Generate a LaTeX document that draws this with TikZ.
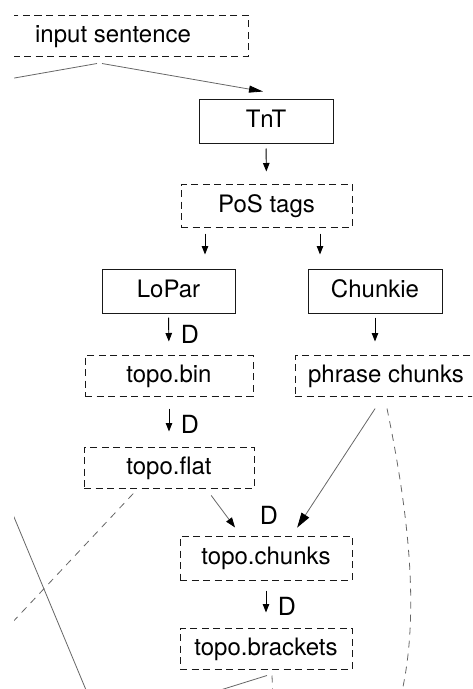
\documentclass[tikz,border=0pt]{standalone}
\usepackage{fontspec}
\setmainfont{TeX Gyre Heros}
\usetikzlibrary{arrows.meta,calc}
\begin{document}
\begin{tikzpicture}[x=1pt,y=-1pt,
  every node/.style={inner sep=0pt, font=\fontsize{24}{28}\selectfont,
    text height=17pt, text depth=4pt},
  proc/.style={draw=black!90, line width=1pt},
  data/.style={proc, dash pattern=on 7pt off 4.5pt},
  dlabel/.style={font=\fontsize{25}{28}\selectfont, text height=17pt, text depth=0pt},
  step arrow/.style={draw=black, line width=0.9pt, -{Triangle[length=8.5pt,width=6.5pt]}},
  link/.style={draw=black!60, line width=0.8pt},
  link arrow/.style={link, -{Triangle[length=14pt,width=7pt,color=black]}},
  link dashed/.style={link, dash pattern=on 7pt off 6pt}
]
\useasboundingbox (0,0) rectangle (473,689);
\clip (14,0) rectangle (472,689);

% data files (dashed) and tools (solid)
\node[data, minimum width=270pt, minimum height=41pt] (input)    at (113,35.5)  {input sentence};
\node[proc, minimum width=134pt, minimum height=44pt] (tnt)      at (266,121)   {TnT};
\node[data, minimum width=171pt, minimum height=43pt] (pos)      at (266.5,205.5) {PoS tags};
\node[proc, minimum width=133pt, minimum height=44pt] (lopar)    at (168.5,291) {LoPar};
\node[proc, minimum width=134pt, minimum height=44pt] (chunkie)  at (375,291)   {Chunkie};
\node[data, minimum width=168pt, minimum height=41pt] (bin)      at (169,375.5) {topo.bin};
\node[data, minimum width=182pt, minimum height=41pt] (phrase)   at (386,375.5) {phrase chunks};
\node[data, minimum width=170pt, minimum height=41pt] (flat)     at (169,467.5) {topo.flat};
\node[data, minimum width=172pt, minimum height=44pt] (chunks)   at (266,558)   {topo.chunks};
\node[data, minimum width=172pt, minimum height=41pt] (brackets) at (266,648.5) {topo.brackets};

% "D" markers beside the conversion steps
\node[dlabel] (d1) at (190,335)   {D};
\node[dlabel] (d2) at (190,425)   {D};
\node[dlabel] (d3) at (269,515.5) {D};
\node[dlabel] (d4) at (287,607)   {D};

% free ends of the lines that leave the frame
\coordinate (inL)   at (-10,82.3);
\coordinate (flatL) at (-2,637.7);
\coordinate (sideT) at (0,483.4);
\coordinate (sideB) at (90.2,700);
\coordinate (brL)   at (188.4,700);
\coordinate (brD)   at (273,700);
\coordinate (phD)   at (400,700);

% input sentence
\draw[link] ($(input.south)+(-16,7)$) -- (inL);
\draw[link arrow] ($(input.south)+(-11,7)$) -- ($(tnt.north)+(-3,-7)$);

% pipeline steps
\draw[step arrow, shorten <=5pt, shorten >=12pt] (tnt.south) -- (pos.north);
\draw[step arrow, shorten <=6pt, shorten >=14pt] ([xshift=-61.5pt]pos.south) -- ([xshift=36.5pt]lopar.north);
\draw[step arrow, shorten <=6pt, shorten >=14pt] ([xshift=53.5pt]pos.south) -- ([xshift=-55pt]chunkie.north);
\draw[step arrow, shorten <=4pt, shorten >=13pt] (lopar.south) -- (bin.north);
\draw[step arrow, shorten <=4pt, shorten >=13pt] (chunkie.south) -- ([xshift=-11pt]phrase.north);
\draw[step arrow, shorten <=12pt, shorten >=15pt] (bin.south) -- (flat.north);
\draw[step arrow, shorten <=10pt, shorten >=15pt] (chunks.south) -- (brackets.north);

% merging into topo.chunks
\draw[link, -{Triangle[length=10pt,width=7pt,color=black]}, shorten <=8.6pt, shorten >=10pt]
  ([xshift=37pt]flat.south) -- ([xshift=-25pt]chunks.north);
\draw[link, -{Triangle[length=15pt,width=9pt,color=black]}, shorten <=14.4pt, shorten >=9.4pt]
  ([xshift=-3pt]phrase.south) -- ([xshift=26pt]chunks.north);

% lines running on out of the frame
\draw[link dashed] ($(phrase.south)+(1,12)$) .. controls (410,520) and (420,620) .. (phD);
\draw[link dashed, shorten <=7pt] ([xshift=-31pt]flat.south) -- (flatL);
\draw[link] (sideT) -- (sideB);
\draw[link] ($(brackets.south)+(1,6)$) -- (brL);
\draw[link dashed] ($(brackets.south)+(6,6)$) -- (brD);
\end{tikzpicture}
\end{document}
